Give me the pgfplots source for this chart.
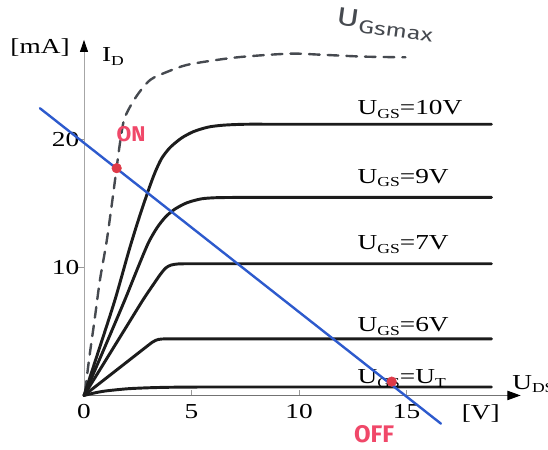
\documentclass[border=0pt]{standalone}
\usepackage{pgfplots}
\pgfplotsset{compat=1.18}
\usepackage{fontspec}
\setmainfont{Liberation Serif}[FakeStretch=1.28]
\newfontfamily\handfont{Fira Sans}
\usetikzlibrary{arrows.meta}

\definecolor{curveblack}{RGB}{28,28,28}
\definecolor{loadblue}{RGB}{45,90,205}
\definecolor{dotred}{RGB}{222,58,72}
\definecolor{penpink}{RGB}{240,72,105}
\definecolor{pengray}{RGB}{70,74,80}

% subscript in the style of the drawing
\newcommand\sub[1]{\raisebox{-2.8pt}{\fontsize{10.3}{11}\selectfont #1}}

\begin{document}
\begin{tikzpicture}[font=\fontsize{16}{19}\selectfont]
\begin{axis}[
  x=16.125pt, y=9.6075pt,
  xmin=0, xmax=20.31, ymin=0, ymax=27.75,
  axis lines=left,
  clip=false,
  x axis line style={draw=black!55, line width=0.9pt,
    -{Triangle[length=10pt,width=7pt,color=black]}},
  y axis line style={draw=black!35, line width=0.6pt,
    -{Triangle[length=9pt,width=6pt,color=black]}},
  xtick={0,5,10,15}, ytick={10,20},
  tick align=inside,
  major tick length=4.3pt,
  tick style={draw=black!40, line width=0.6pt},
  y tick style={xshift=-4.3pt},
  /pgf/number format/assume math mode=true,
  tick label style={font=\fontsize{16}{19}\selectfont},
  xticklabel style={yshift=-3pt},
  every axis plot/.append style={line cap=round, line join=round},
]

% U_GS,max boundary
\addplot[pengray, line width=1.8pt, dash pattern=on 8pt off 6pt, smooth, tension=0.5]
  coordinates {(0.05,0.3) (0.25,3.0) (0.5,6.0) (0.74,9.0) (1.05,12.0) (1.3,15.0)
    (1.52,17.8) (1.7,20.0) (1.9,21.7) (2.43,23.33) (3.08,24.63) (3.9,25.28)
    (4.78,25.8) (6.17,26.19) (7.47,26.45) (9.58,26.68) (11.0,26.6) (13.0,26.45)
    (14.95,26.4)};

% output characteristics
\addplot[curveblack, line width=2.2pt, smooth, tension=0.45]
  coordinates {(0,0) (0.7,3.6) (1.44,7.46) (2.09,11.3) (2.53,13.7) (2.99,16.0)
    (3.3,17.4) (3.61,18.5) (4.0,19.35) (4.54,20.1) (5.1,20.6) (5.78,20.95)
    (6.5,21.1) (7.5,21.17) (9,21.17) (11,21.17) (13,21.17) (15,21.17)
    (17,21.17) (18.95,21.17)};
\addplot[curveblack, line width=2.2pt, smooth, tension=0.45]
  coordinates {(0,0) (1.0,3.9) (1.91,7.5) (2.5,9.95) (2.99,11.9) (3.4,13.1)
    (3.8,13.95) (4.23,14.55) (4.8,15.05) (5.47,15.35) (6.2,15.44) (7.5,15.46)
    (9,15.46) (11,15.46) (13,15.46) (15,15.46) (17,15.46) (18.95,15.46)};
\addplot[curveblack, line width=2.2pt, smooth, tension=0.45]
  coordinates {(0,0) (1.0,2.72) (2.0,5.44) (2.74,7.45) (3.2,8.6) (3.55,9.45)
    (3.8,9.95) (4.05,10.18) (4.4,10.27) (5.0,10.28) (6,10.28) (7.5,10.28)
    (9,10.28) (11,10.28) (13,10.28) (15,10.28) (17,10.28) (18.95,10.28)};
\addplot[curveblack, line width=2.2pt, smooth, tension=0.45]
  coordinates {(0,0) (1.0,1.31) (2.0,2.62) (2.8,3.67) (3.2,4.18) (3.45,4.37)
    (3.8,4.42) (4.5,4.42) (6,4.42) (7.5,4.42) (9,4.42) (11,4.42) (13,4.42)
    (15,4.42) (17,4.42) (18.95,4.42)};
\addplot[curveblack, line width=2.2pt, smooth, tension=0.45]
  coordinates {(0,0) (0.5,0.2) (1.0,0.35) (2.0,0.52) (3.0,0.6) (4.0,0.64)
    (5.5,0.66) (7,0.66) (9,0.66) (11,0.66) (13,0.66) (15,0.66) (17,0.66)
    (18.95,0.66)};

% curve labels
\node[anchor=base west] at (axis cs:12.51,21.9) {U\sub{GS}=10V};
\node[anchor=base west] at (axis cs:12.51,16.57) {U\sub{GS}=9V};
\node[anchor=base west] at (axis cs:12.51,11.36) {U\sub{GS}=7V};
\node[anchor=base west] at (axis cs:12.51,4.98) {U\sub{GS}=6V};
\node[anchor=base west] at (axis cs:12.51,0.95) {U\sub{GS}=U\sub{T}};

% axis labels
\node[anchor=base east] at (axis cs:-0.45,26.71) {[mA]};
\node[anchor=base west] at (axis cs:0.62,26.03) {I\sub{D}};
\node[anchor=base west] at (axis cs:19.7,0.5) {U\sub{DS}};
\node at (axis cs:18.45,-1.4) {[V]};

% load line
\addplot[loadblue, line width=1.8pt] coordinates {(-2.05,22.42) (16.6,-2.20)};

% operating points
\addplot[only marks, mark=*, mark size=3.6pt, color=dotred, mark options={draw=dotred, fill=dotred}]
  coordinates {(1.52,17.74) (14.31,1.08)};

% handwritten notes
\node[text=penpink, font=\handfont\bfseries\fontsize{16}{16}\selectfont] at (axis cs:2.19,20.4) {ON};
\node[text=penpink, font=\handfont\bfseries\fontsize{18}{18}\selectfont] at (axis cs:13.49,-3.0) {OFF};
\node[text=pengray, rotate=-8, xscale=1.35, font=\handfont\fontsize{19}{19}\selectfont]
  at (axis cs:14.0,28.9) {U\raisebox{-3pt}{\fontsize{14}{14}\selectfont Gsmax}};

\coordinate (bl) at (axis cs:-3.907,-4.254);
\coordinate (tr) at (axis cs:21.58,30.87);
\end{axis}
\pgfresetboundingbox
\path[use as bounding box] (bl) rectangle (tr);
\end{tikzpicture}
\end{document}
